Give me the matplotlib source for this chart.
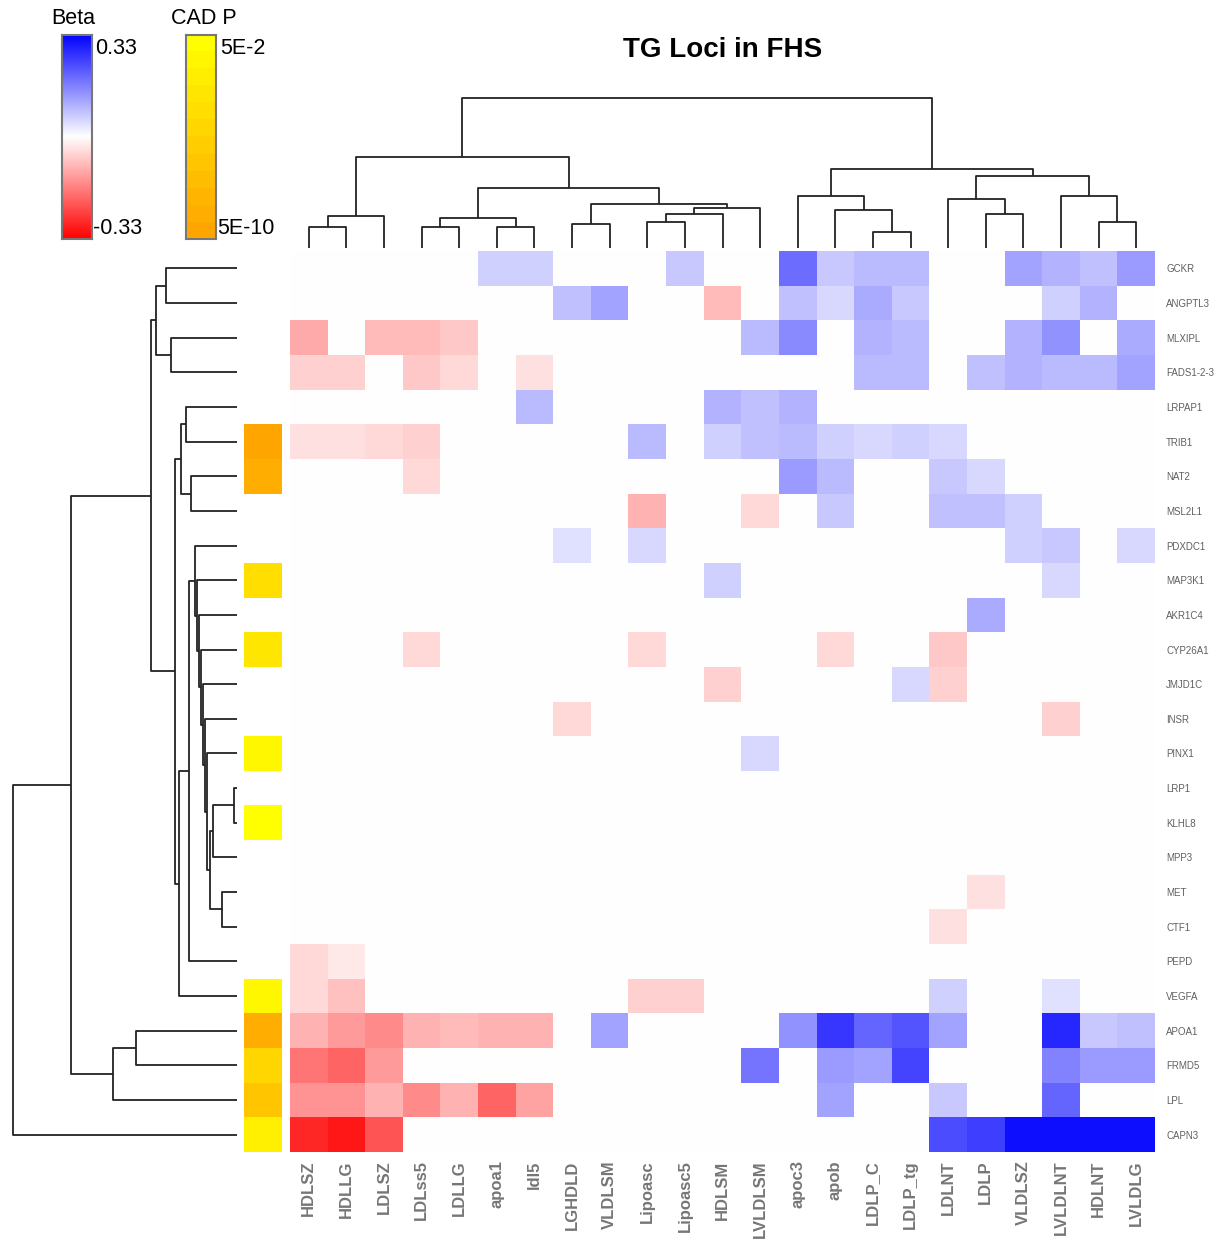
import numpy as np
import matplotlib.pyplot as plt
from matplotlib.colors import LinearSegmentedColormap

plt.rcParams['font.family'] = ['Liberation Sans', 'DejaVu Sans']

# loci (rows, top to bottom) and lipid traits (columns, left to right)
genes = ["GCKR", "ANGPTL3", "MLXIPL", "FADS1-2-3", "LRPAP1", "TRIB1", "NAT2",
         "MSL2L1", "PDXDC1", "MAP3K1", "AKR1C4", "CYP26A1", "JMJD1C", "INSR",
         "PINX1", "LRP1", "KLHL8", "MPP3", "MET", "CTF1", "PEPD", "VEGFA",
         "APOA1", "FRMD5", "LPL", "CAPN3"]
traits = ["HDLSZ", "HDLLG", "LDLSZ", "LDLss5", "LDLLG", "apoa1", "ldl5",
          "LGHDLD", "VLDLSM", "Lipoasc", "Lipoasc5", "HDLSM", "LVLDLSM",
          "apoc3", "apob", "LDLP_C", "LDLP_tg", "LDLNT", "LDLP", "VLDLSZ",
          "LVLDLNT", "HDLNT", "LVLDLG"]

# beta of each locus on each trait (0 = not significant)
beta = np.array([
    [0, 0, 0, 0, 0, .06, .06, 0, 0, 0, .07, 0, 0, .19, .07, .09, .09, 0, 0, .12, .10, .08, .13],
    [0, 0, 0, 0, 0, 0, 0, .08, .12, 0, 0, -.09, 0, .08, .05, .11, .07, 0, 0, 0, .06, .10, 0],
    [-.11, 0, -.09, -.09, -.07, 0, 0, 0, 0, 0, 0, 0, .09, .15, 0, .10, .09, 0, 0, .10, .14, 0, .11],
    [-.06, -.06, 0, -.07, -.05, 0, -.04, 0, 0, 0, 0, 0, 0, 0, 0, .09, .09, 0, .08, .10, .09, .09, .12],
    [0, 0, 0, 0, 0, 0, .09, 0, 0, 0, 0, .10, .08, .10, 0, 0, 0, 0, 0, 0, 0, 0, 0],
    [-.04, -.04, -.05, -.06, 0, 0, 0, 0, 0, .09, 0, .06, .08, .09, .06, .05, .06, .05, 0, 0, 0, 0, 0],
    [0, 0, 0, -.05, 0, 0, 0, 0, 0, 0, 0, 0, 0, .13, .09, 0, 0, .07, .05, 0, 0, 0, 0],
    [0, 0, 0, 0, 0, 0, 0, 0, 0, -.10, 0, 0, -.05, 0, .07, 0, 0, .08, .08, .06, 0, 0, 0],
    [0, 0, 0, 0, 0, 0, 0, .04, 0, .05, 0, 0, 0, 0, 0, 0, 0, 0, 0, .06, .07, 0, .05],
    [0, 0, 0, 0, 0, 0, 0, 0, 0, 0, 0, .06, 0, 0, 0, 0, 0, 0, 0, 0, .05, 0, 0],
    [0, 0, 0, 0, 0, 0, 0, 0, 0, 0, 0, 0, 0, 0, 0, 0, 0, 0, .11, 0, 0, 0, 0],
    [0, 0, 0, -.05, 0, 0, 0, 0, 0, -.05, 0, 0, 0, 0, -.05, 0, 0, -.07, 0, 0, 0, 0, 0],
    [0, 0, 0, 0, 0, 0, 0, 0, 0, 0, 0, -.06, 0, 0, 0, 0, .05, -.06, 0, 0, 0, 0, 0],
    [0, 0, 0, 0, 0, 0, 0, -.05, 0, 0, 0, 0, 0, 0, 0, 0, 0, 0, 0, 0, -.06, 0, 0],
    [0, 0, 0, 0, 0, 0, 0, 0, 0, 0, 0, 0, .05, 0, 0, 0, 0, 0, 0, 0, 0, 0, 0],
    [0] * 23,
    [0] * 23,
    [0] * 23,
    [0, 0, 0, 0, 0, 0, 0, 0, 0, 0, 0, 0, 0, 0, 0, 0, 0, 0, -.04, 0, 0, 0, 0],
    [0, 0, 0, 0, 0, 0, 0, 0, 0, 0, 0, 0, 0, 0, 0, 0, 0, -.04, 0, 0, 0, 0, 0],
    [-.05, -.03, 0, 0, 0, 0, 0, 0, 0, 0, 0, 0, 0, 0, 0, 0, 0, 0, 0, 0, 0, 0, 0],
    [-.05, -.08, 0, 0, 0, 0, 0, 0, 0, -.06, -.06, 0, 0, 0, 0, 0, 0, .06, 0, 0, .04, 0, 0],
    [-.10, -.13, -.15, -.10, -.09, -.10, -.10, 0, .12, 0, 0, 0, 0, .14, .26, .20, .22, .12, 0, 0, .28, .07, .08],
    [-.18, -.20, -.13, 0, 0, 0, 0, 0, 0, 0, 0, 0, .18, 0, .13, .12, .24, 0, 0, 0, .16, .13, .13],
    [-.14, -.14, -.10, -.15, -.10, -.20, -.12, 0, 0, 0, 0, 0, 0, 0, .12, 0, 0, .07, 0, 0, .20, 0, 0],
    [-.28, -.30, -.22, 0, 0, 0, 0, 0, 0, 0, 0, 0, 0, 0, 0, 0, 0, .23, .25, .31, .31, .31, .31],
])

# CAD association p-value per locus (nan = not shown)
cad_p = [np.nan, np.nan, np.nan, np.nan, np.nan, 2e-9, 1e-8, np.nan, np.nan,
         1e-4, np.nan, 3e-4, np.nan, np.nan, 1e-2, np.nan, 4e-2, np.nan,
         np.nan, np.nan, np.nan, 3e-3, 5e-9, 1e-5, 1e-6, 1e-3]

# clustering merges: (left, right, height); new node ids continue after leaves
col_merges = [(0, 1, 20), (23, 2, 31), (3, 4, 20), (5, 6, 20), (25, 26, 29),
              (7, 8, 23), (9, 10, 25), (29, 11, 33), (30, 12, 39), (28, 31, 43),
              (27, 32, 58), (24, 33, 88), (15, 16, 15), (14, 35, 37), (13, 36, 50),
              (18, 19, 33), (17, 38, 47), (21, 22, 25), (20, 40, 50), (39, 41, 70),
              (37, 42, 76), (34, 43, 145)]
row_merges = [(0, 1, 71), (2, 3, 66), (26, 27, 81), (4, 5, 51), (6, 7, 46),
              (29, 30, 56), (15, 16, 3), (32, 17, 24), (18, 19, 15), (33, 34, 27),
              (14, 35, 30), (13, 36, 32), (12, 37, 34), (11, 38, 36), (10, 39, 38),
              (9, 40, 40), (8, 41, 42), (42, 20, 48), (43, 21, 58), (31, 44, 62),
              (28, 45, 86), (22, 23, 101), (47, 24, 124), (46, 48, 166), (49, 25, 224)]

W, H = 1228, 1245
fig = plt.figure(figsize=(W / 100, H / 100), dpi=100)


def px_axes(x0, y0, x1, y1):
    return fig.add_axes([x0 / W, 1 - y1 / H, (x1 - x0) / W, (y1 - y0) / H])


def dendro_segments(merges, n):
    pos = {i: i + 0.5 for i in range(n)}
    hgt = {i: 0.0 for i in range(n)}
    segs = []
    for k, (a, b, h) in enumerate(merges):
        segs.append(([pos[a], pos[a], pos[b], pos[b]], [hgt[a], h, h, hgt[b]]))
        pos[n + k] = (pos[a] + pos[b]) / 2
        hgt[n + k] = h
    return segs


beta_cmap = LinearSegmentedColormap.from_list("rwb", ["#ff0000", "#ffffff", "#0000ff"], N=256)
p_cmap = LinearSegmentedColormap.from_list("yo", ["#ffa500", "#ffff00"], N=12)
p_lo, p_hi = np.log10(5e-10), np.log10(5e-2)

nr, nc = len(genes), len(traits)

# heatmap
ax = px_axes(290, 251, 1155, 1152)
ax.pcolormesh(np.arange(nc + 1), np.arange(nr + 1), beta, cmap=beta_cmap,
              vmin=-0.33, vmax=0.33)
ax.set_xlim(0, nc)
ax.set_ylim(nr, 0)
ax.set_xticks(np.arange(nc) + 0.5)
ax.set_xticklabels(traits, rotation=90, fontsize=12, fontweight="bold", color="#767676")
ax.set_yticks(np.arange(nr) + 0.5)
ax.set_yticklabels(genes, fontsize=7, color="#606060")
ax.yaxis.tick_right()
ax.tick_params(axis="x", length=0, pad=6)
ax.tick_params(axis="y", length=0, pad=8)
for s in ax.spines.values():
    s.set_visible(False)

# CAD P side colours
axs = px_axes(244, 251, 282, 1152)
logp = np.log10(np.array(cad_p, dtype=float)).reshape(-1, 1)
pc = p_cmap.copy()
pc.set_bad("white")
axs.pcolormesh(np.arange(2), np.arange(nr + 1), np.ma.masked_invalid(logp),
               cmap=pc, vmin=p_lo, vmax=p_hi)
axs.set_ylim(nr, 0)
axs.axis("off")

# column dendrogram
axc = px_axes(290, 95, 1155, 248)
for xs, ys in dendro_segments(col_merges, nc):
    axc.plot(xs, ys, color="#222222", lw=1.3, solid_capstyle="butt")
axc.set_xlim(0, nc)
axc.set_ylim(0, 148)
axc.axis("off")

# row dendrogram
axr = px_axes(10, 251, 237, 1152)
for ys, xs in dendro_segments(row_merges, nr):
    axr.plot(xs, ys, color="#222222", lw=1.3, solid_capstyle="butt")
axr.set_xlim(227, 0)
axr.set_ylim(nr, 0)
axr.axis("off")

# colour keys
grad = np.linspace(1, 0, 256).reshape(-1, 1)
axb = px_axes(62, 35, 92, 239)
axb.imshow(grad, aspect="auto", cmap=beta_cmap, extent=(0, 1, 0, 1))
axp = px_axes(186, 35, 216, 239)
axp.imshow(np.linspace(1, 0, 12).reshape(-1, 1), aspect="auto", cmap=p_cmap,
           extent=(0, 1, 0, 1))
for a in (axb, axp):
    a.set_xticks([])
    a.set_yticks([])
    for s in a.spines.values():
        s.set_color("#777777")
        s.set_linewidth(1.5)

fig.text(73 / W, 1 - 19 / H, "Beta", fontsize=15.5, ha="center", va="center")
fig.text(204 / W, 1 - 19 / H, "CAD P", fontsize=15.5, ha="center", va="center")
fig.text(95 / W, 1 - 49 / H, "0.33", fontsize=15.5, ha="left", va="center")
fig.text(93 / W, 1 - 229 / H, "-0.33", fontsize=15.5, ha="left", va="center")
fig.text(220 / W, 1 - 49 / H, "5E-2", fontsize=15.5, ha="left", va="center")
fig.text(217 / W, 1 - 229 / H, "5E-10", fontsize=15.5, ha="left", va="center")

fig.text(723 / W, 1 - 50 / H, "TG Loci in FHS", fontsize=20, fontweight="bold",
         ha="center", va="center")

fig.savefig("out.png", dpi=100)
